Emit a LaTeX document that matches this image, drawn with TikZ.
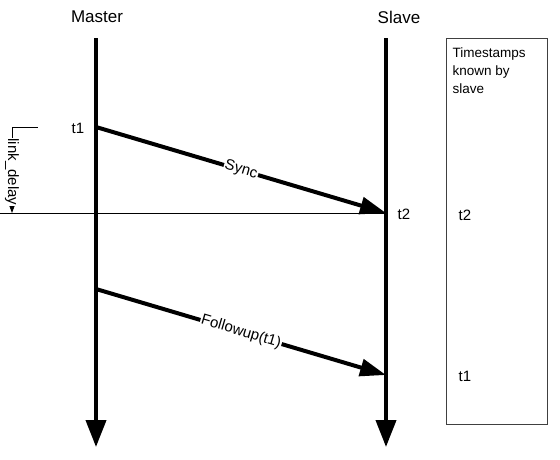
\documentclass[tikz,border=0pt]{standalone}
\usepackage{fontspec}
\setmainfont{Liberation Sans}
\usepackage{tikz}
\usetikzlibrary{positioning,arrows.meta}

\begin{document}
\begin{tikzpicture}[
  x=1pt, y=-1pt,
  head/.style={font=\fontsize{17}{19}\selectfont},
  stamp/.style={font=\fontsize{15}{17}\selectfont},
  life/.style={line width=4pt, -{Triangle[length=27pt,width=20pt]}},
  msg/.style={line width=4pt, -{Triangle[length=26pt,width=17pt]}},
  thin/.style={line width=0.8pt},
  tag/.style={font=\fontsize{15}{17}\selectfont, fill=white, inner sep=1pt, sloped}
]
\useasboundingbox (0,0) rectangle (560,459);

% Lifelines
\coordinate (mtop) at (96,38);
\coordinate (mbot) at (96,447);
\coordinate (stop) at (386,38);
\coordinate (sbot) at (386,447);
\node[head] (master) at (97,17) {Master};
\node[head] (slave) at (399,17) {Slave};
\draw[life] (mtop) -- (mbot);
\draw[life] (stop) -- (sbot);

% Message end points
\coordinate (syncA) at (96,127);
\coordinate (syncB) at (386,213);
\coordinate (fupA) at (96,289);
\coordinate (fupB) at (386,375);

% Reference lines for the delay
\coordinate (refA) at (12,127);
\coordinate (refB) at (38,127);
\coordinate (refC) at (0,213);
\coordinate (dlyA) at (12,127);
\coordinate (dlyB) at (12,213);
\draw[thin] (refA) -- (refB);
\draw[thin] (refC) -- (syncB);
\draw[thin, -{Triangle[length=7pt,width=5pt]}] (dlyA) -- (dlyB);
\node[stamp, rotate=-90, fill=white, inner sep=1pt] (delay) at (12,172) {link\_delay};

% Messages
\draw[msg] (syncA) -- node[tag, midway] (sync) {Sync} (syncB);
\draw[msg] (fupA) -- node[tag, midway] (fup) {Followup(t1)} (fupB);

% Timestamps
\node[stamp] (t1) at (78,128) {t1};
\node[stamp] (t2) at (404,214) {t2};

% Slave knowledge box
\node[draw=black!75, line width=1pt, minimum width=101pt, minimum height=386pt] (known) at (496.5,231) {};
\node[font=\fontsize{13.5}{18}\selectfont, align=left, anchor=north west] (knowntxt) at (449,44) {Timestamps\\known by\\slave};
\node[stamp] (kt2) at (465,215) {t2};
\node[stamp] (kt1) at (465,376) {t1};

\end{tikzpicture}
\end{document}
